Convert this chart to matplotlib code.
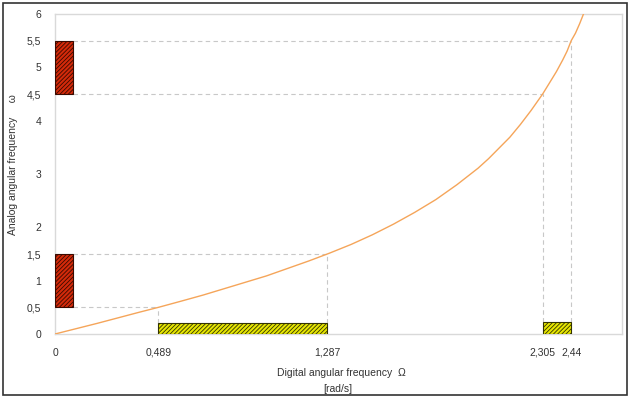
import matplotlib
matplotlib.use("Agg")
import matplotlib.pyplot as plt
from matplotlib.patches import Rectangle

plt.rcParams['font.family'] = ['Liberation Sans', 'DejaVu Sans']
plt.rcParams['hatch.linewidth'] = 0.6

# Curve: digital frequency (rad/s) vs analog frequency
omega_digital = [0.0, 0.2, 0.4, 0.489, 0.6, 0.7, 0.8, 0.9, 1.0, 1.1, 1.2, 1.287, 1.3,
                 1.4, 1.5, 1.6, 1.7, 1.8, 1.9, 2.0, 2.05, 2.1, 2.15, 2.2, 2.25, 2.305,
                 2.35, 2.37, 2.4, 2.42, 2.44, 2.46, 2.48, 2.5]
omega_analog = [0.0, 0.20, 0.41, 0.50, 0.62, 0.73, 0.85, 0.97, 1.09, 1.23, 1.37, 1.50, 1.52,
                1.68, 1.86, 2.06, 2.28, 2.52, 2.80, 3.11, 3.29, 3.49, 3.69, 3.93, 4.19, 4.50,
                4.79, 4.92, 5.14, 5.30, 5.50, 5.64, 5.82, 6.02]

# Analog bands (red bars on the y axis)
analog_bands = [(0.5, 1.5), (4.5, 5.5)]
# Digital bands (yellow bars on the x axis) and their heights
digital_bands = [(0.489, 1.287), (2.305, 2.44)]
digital_heights = [0.2, 0.23]

x_ticks = [0, 0.489, 1.287, 2.305, 2.44]
x_ticklabels = ["0", "0,489", "1,287", "2,305", "2,44"]
y_ticks = [0, 0.5, 1, 1.5, 2, 3, 4, 4.5, 5, 5.5, 6]
y_ticklabels = ["0", "0,5", "1", "1,5", "2", "3", "4", "4,5", "5", "5,5", "6"]

# Dashed guide corners (digital, analog)
guides = [(0.489, 0.5), (1.287, 1.5), (2.305, 4.5), (2.44, 5.5)]

W, H = 631, 398
fig = plt.figure(figsize=(W / 100, H / 100), dpi=100)
fig.patch.set_facecolor('white')
fig.add_artist(Rectangle((3 / W, 3 / H), 624 / W, 392 / H, transform=fig.transFigure,
                         fill=False, edgecolor='#333333', linewidth=1.2))

ax = fig.add_axes([55 / W, 1 - 334 / H, 567 / W, 320 / H])
ax.set_xlim(0, 2.68)
ax.set_ylim(0, 6)

bar_w = 0.087
grey = '#c8c8c8'
for i, (gx, gy) in enumerate(guides):
    hb = digital_heights[0] if i < 2 else digital_heights[1]
    ax.plot([bar_w, gx], [gy, gy], ls=(0, (4, 3)), color=grey, lw=0.8, zorder=1)
    ax.plot([gx, gx], [hb, gy], ls=(0, (4, 3)), color=grey, lw=0.8, zorder=1)

ax.plot(omega_digital, omega_analog, color='#f5a55a', lw=1.0, zorder=3, clip_on=True)

for lo, hi in analog_bands:
    ax.add_patch(Rectangle((0, lo), bar_w, hi - lo, facecolor='#d42a0a',
                           edgecolor='#3a0a00', hatch='////////', lw=0.8, zorder=4))
for (lo, hi), h in zip(digital_bands, digital_heights):
    ax.add_patch(Rectangle((lo, 0), hi - lo, h, facecolor='#e6e600',
                           edgecolor='#333300', hatch='////////', lw=0.8, zorder=4))

ax.set_xticks(x_ticks)
ax.set_xticklabels(x_ticklabels)
ax.set_yticks(y_ticks)
ax.set_yticklabels(y_ticklabels)
ax.tick_params(length=0, labelsize=7.5, colors='#333333', pad=10)
ax.tick_params(axis='y', pad=10)
for s in ax.spines.values():
    s.set_color('#d9d9d9')
    s.set_linewidth(1.0)

fig.text(341 / W, 1 - 373 / H, "Digital angular frequency  \u03a9", ha='center', va='center',
         fontsize=7.5, color='#333333')
fig.text(338 / W, 1 - 389 / H, "[rad/s]", ha='center', va='center',
         fontsize=7.5, color='#333333')
fig.text(13 / W, 1 - 165 / H, "Analog angular frequency     \u03c9", ha='center', va='center',
         rotation=90, fontsize=7.5, color='#333333')

fig.savefig("out.png", dpi=100, facecolor='white')
